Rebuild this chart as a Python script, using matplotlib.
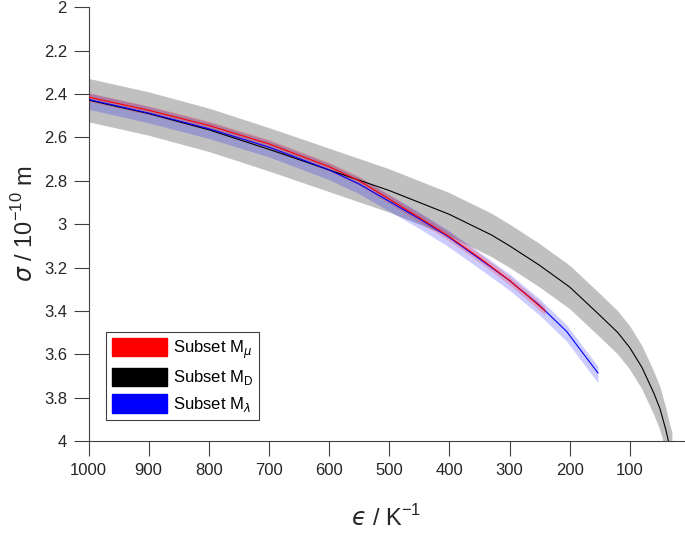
import matplotlib
matplotlib.use("Agg")
import matplotlib.pyplot as plt
from matplotlib.patches import Patch
from matplotlib.ticker import FormatStrFormatter
import numpy as np

plt.rcParams['font.family'] = ['Liberation Sans', 'DejaVu Sans']
plt.rcParams['mathtext.fontset'] = 'custom'
plt.rcParams['mathtext.rm'] = 'Liberation Sans'
plt.rcParams['mathtext.it'] = 'DejaVu Sans:italic'

# black curve (subset M_D), eps in K, sigma in 1e-10 m
eps_D = [1000, 900, 800, 700, 600, 500, 400, 330, 300, 250, 200, 150, 120,
         100, 80, 60, 50, 40, 35, 30]
sig_D = [2.428, 2.49, 2.565, 2.655, 2.75, 2.845, 2.955, 3.05, 3.10, 3.19,
         3.29, 3.42, 3.50, 3.57, 3.66, 3.78, 3.85, 3.95, 4.01, 4.06]
band_D = 0.1

# red curve (subset M_mu)
eps_mu = [1000, 900, 800, 700, 600, 550, 500, 450, 400, 350, 300, 270, 241]
sig_mu = [2.414, 2.475, 2.545, 2.63, 2.735, 2.80, 2.885, 2.97, 3.058, 3.155,
          3.26, 3.33, 3.40]
band_mu = 0.02

# blue curve (subset M_lambda)
eps_la = [1000, 900, 800, 700, 600, 550, 500, 450, 400, 350, 300, 250, 205,
          178, 153]
sig_la = [2.425, 2.488, 2.56, 2.645, 2.75, 2.815, 2.895, 2.975, 3.062, 3.16,
          3.26, 3.375, 3.495, 3.595, 3.686]
band_la_lo = 0.03
band_la_hi = 0.045

xticks = [1000, 900, 800, 700, 600, 500, 400, 300, 200, 100]
yticks = [2, 2.2, 2.4, 2.6, 2.8, 3, 3.2, 3.4, 3.6, 3.8, 4]

fig = plt.figure(figsize=(6.85, 5.35), dpi=100)
ax = fig.add_axes([0.1292, 0.1757, 0.8693, 0.8107])

eD = np.array(eps_D); sD = np.array(sig_D)
eM = np.array(eps_mu); sM = np.array(sig_mu)
eL = np.array(eps_la); sL = np.array(sig_la)

ax.fill_between(eD, sD - band_D, sD + band_D, color='#c0c0c0', lw=0, zorder=1)
ax.fill_between(eL, sL - band_la_lo, sL + band_la_hi, color='blue', alpha=0.2, lw=0, zorder=2)
ax.fill_between(eM, sM - band_mu, sM + band_mu, color='red', alpha=0.2, lw=0, zorder=3)
ax.plot(eD, sD, color='black', lw=0.8, zorder=4)
ax.plot(eL, sL, color='blue', lw=0.8, zorder=5)
ax.plot(eM, sM, color='red', lw=0.8, zorder=6)

ax.set_xlim(1000, 10)
ax.set_ylim(4, 2)
ax.set_xticks(xticks)
ax.set_yticks(yticks)
ax.yaxis.set_major_formatter(FormatStrFormatter('%g'))
ax.spines['top'].set_visible(False)
ax.spines['right'].set_visible(False)
for s in ['left', 'bottom']:
    ax.spines[s].set_color('#404040')
    ax.spines[s].set_linewidth(0.8)
ax.tick_params(direction='out', length=10.5, width=0.8, color='#404040',
               labelsize=12, labelcolor='#262626', pad=5)

ax.set_xlabel('$\u03f5$ / K$^{\\mathrm{-1}}$', fontsize=17, color='#262626', labelpad=20)
ax.set_ylabel(r'$\sigma$ / 10$^{\mathrm{-10}}$ m', fontsize=17, color='#262626', labelpad=4)

handles = [Patch(facecolor='red', edgecolor='red'),
           Patch(facecolor='black', edgecolor='black'),
           Patch(facecolor='blue', edgecolor='blue')]
labels = [r'Subset M$_{\mu}$', r'Subset M$_{\mathrm{D}}$', r'Subset M$_{\lambda}$']
leg = ax.legend(handles, labels, loc='lower left', bbox_to_anchor=(0.03, 0.048),
                borderaxespad=0, fontsize=12, handlelength=3.3, handleheight=1.32,
                fancybox=False, framealpha=1, edgecolor='#404040',
                borderpad=0.36, labelspacing=0.42, handletextpad=0.35)
leg.get_frame().set_linewidth(0.8)

fig.savefig('out.png', dpi=100)
